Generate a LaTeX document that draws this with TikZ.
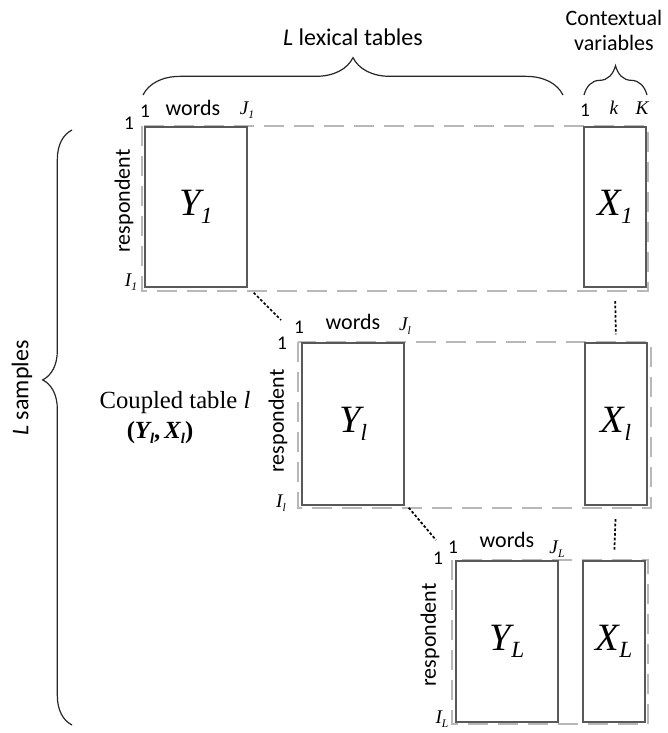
\documentclass[tikz,border=0pt]{standalone}
\usepackage{graphicx}
\usepackage{fontspec}
\setmainfont{Carlito}
\newfontfamily\tms{Liberation Serif}
\usetikzlibrary{decorations.pathreplacing}

% lowered small index, and an italic variable with its index
\newcommand{\lowsub}[1]{\raisebox{-0.19em}{\scalebox{0.6}{#1}}}
\newcommand{\tvar}[2]{{\tms\itshape #1\lowsub{#2}}}

\tikzset{
  tbl/.style={draw=black!65, line width=1.1pt, inner sep=0pt, fill=white,
    font=\fontsize{29}{31}\selectfont},
  grp/.style={draw=black!28, line width=2.2pt, dash pattern=on 15pt off 7.5pt},
  idx/.style={inner sep=0pt, font=\fontsize{14.5}{16}\selectfont},
  lbl/.style={inner sep=0pt, font=\fontsize{16.5}{18.75}\selectfont},
  big/.style={inner sep=0pt, font=\fontsize{18}{21}\selectfont},
  link/.style={line width=1.3pt, dash pattern=on 2pt off 1.5pt},
  brc/.style={decorate, line width=0.9pt, draw=black!85},
}

\begin{document}
\begin{tikzpicture}[x=0.75pt, y=-0.75pt]
    \useasboundingbox (0,0) rectangle (668,733);
    % Draw dashed outlines of the three coupled tables
    \draw[grp] (142,126) rectangle (648,291);
    \draw[grp] (298,342) rectangle (651,508);
    \draw[grp] (452,560) rectangle (648,724);
    % Draw table 1
    \node[tbl, minimum width=76.5pt, minimum height=120pt] (Y1) at (196,207) {\tvar{Y}{1}};
    \node[tbl, minimum width=46.5pt, minimum height=120pt] (X1) at (615,207) {\tvar{X}{1}};
    \node[idx] (t1a) at (145,111) {1};
    \node[lbl] (w1) at (193,108) {words};
    \node[idx] (t1b) at (247,110) {\tvar{J}{1}};
    \node[idx] (r1a) at (129,123) {1};
    \node[idx] (r1b) at (131,282) {\tvar{I}{1}};
    \node[lbl, rotate=90] (p1) at (124,201) {respondent};
    % Draw table l
    \node[tbl, minimum width=76.5pt, minimum height=121.5pt] (Yl) at (353,424) {\tvar{Y}{l}};
    \node[tbl, minimum width=46.5pt, minimum height=121.5pt] (Xl) at (616,424) {\tvar{X}{l}};
    \node[idx] (tla) at (299,327) {1};
    \node[lbl] (wl) at (353,322) {words};
    \node[idx] (tlb) at (405,326) {\tvar{J}{l}};
    \node[idx] (rla) at (282,343) {1};
    \node[idx] (rlb) at (281,503) {\tvar{I}{l}};
    \node[lbl, rotate=90] (pl) at (278,421) {respondent};
    % Draw table L
    \node[tbl, minimum width=76.5pt, minimum height=120.75pt] (YL) at (507,641.5) {\tvar{Y}{L}};
    \node[tbl, minimum width=46.5pt, minimum height=120.75pt] (XL) at (614,641.5) {\tvar{X}{L}};
    \node[idx] (tLa) at (453,547) {1};
    \node[lbl] (wL) at (507,540) {words};
    \node[idx] (tLb) at (557,549) {\tvar{J}{L}};
    \node[idx] (rLa) at (438,558) {1};
    \node[idx] (rLb) at (442,719) {\tvar{I}{L}};
    \node[lbl, rotate=90] (pL) at (430,635) {respondent};
    % Column indices of the contextual variables
    \node[idx] (c1) at (585,110) {1};
    \node[idx] (ck) at (614,108) {\tms\itshape k};
    \node[idx] (cK) at (642,108) {\tms\itshape K};
    % Draw braces with their labels
    \draw[brc, decoration={brace, amplitude=28pt}] (143,95) -- (563,95);
    \node[big] (lex) at (353,37) {\textit{L} lexical tables};
    \draw[brc, decoration={brace, amplitude=22pt, aspect=0.5}] (584,95) -- (647,95);
    \node[lbl, align=center] (ctx) at (614,30) {Contextual\\variables};
    \draw[brc, decoration={brace, amplitude=22pt, aspect=0.58}] (72,725) -- (72,130);
    \node[big, rotate=90] (smp) at (22,388) {\textit{L} samples};
    % Label of the middle coupled table
    \node[inner sep=0pt, font=\tms\fontsize{18.5}{21}\selectfont] (cpl) at (175,403) {Coupled table \textit{l}};
    \node[inner sep=0pt, font=\tms\fontsize{18.5}{21}\selectfont] (pair) at (160,433)
      {\bfseries(\textit{Y\lowsub{l}},\,\textit{X\lowsub{l}})};
    % Dotted links between the tables
    \draw[link] ([shift={(6,5)}]Y1.south east) -- ([shift={(-18,-7)}]tla.center);
    \draw[link] ([shift={(4,2)}]Yl.south east) -- ([shift={(-17,-7)}]tLa.center);
    \draw[link, shorten <=10pt, shorten >=6pt] (X1.south) -- (Xl.north);
    \draw[link, shorten <=10pt, shorten >=8pt] (Xl.south) -- (XL.north);
\end{tikzpicture}
\end{document}
